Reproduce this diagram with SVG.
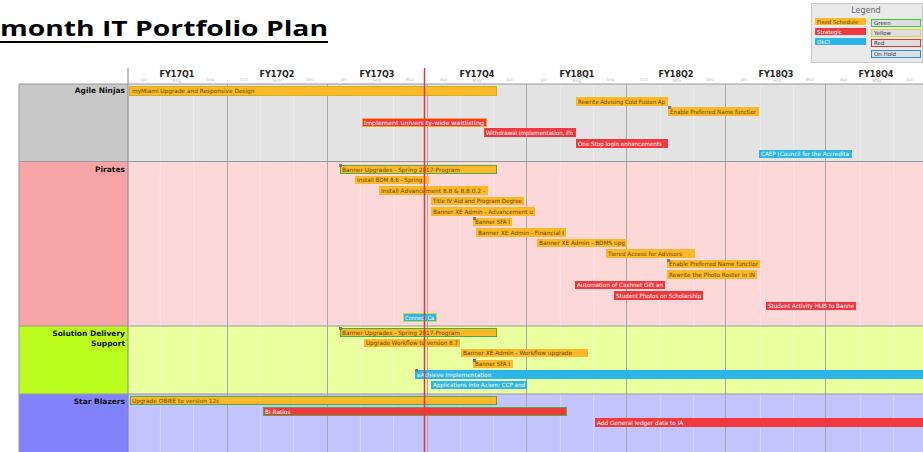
<svg xmlns="http://www.w3.org/2000/svg" width="923" height="452" viewBox="0 0 923 452">
<style>
.bo{fill:#fbb829}
.br{fill:#f2383f}
.bb{fill:#2cb5e6}
.to{fill:#6a4800;font-family:"DejaVu Sans",sans-serif;font-size:5.8px}
.tw{fill:#ffffff;font-family:"DejaVu Sans",sans-serif;font-size:5.8px}
.lane{font-family:"DejaVu Sans",sans-serif;font-size:7.5px;font-weight:bold;fill:#111;text-anchor:end}
.q{font-family:"DejaVu Sans",sans-serif;font-size:8px;font-weight:bold;fill:#222;text-anchor:middle}
.m{font-family:"DejaVu Sans",sans-serif;font-size:4.5px;fill:#bbb;text-anchor:middle}
.mk{fill:#777}
.qg{stroke:#a8a8a8;stroke-width:1}
.mg{stroke:#ffffff;stroke-opacity:0.3;stroke-width:1}
.sep{stroke:#999;stroke-width:1.2}
.lg{font-family:"DejaVu Sans",sans-serif;font-size:5.5px}
</style>

<!-- Title -->
<g id="title">
<text x="0" y="36" font-family="'Open Sans','Liberation Sans',sans-serif" font-weight="bold" font-size="22" fill="#000" textLength="328" lengthAdjust="spacingAndGlyphs">month IT Portfolio Plan</text>
<rect x="0" y="41" width="328" height="2" fill="#000"/>
</g>

<!-- Legend -->
<g id="legend">
<rect x="811.5" y="3.5" width="111" height="59" fill="#e9e9e9" stroke="#c8c8c8"/>
<text x="866" y="13" font-family="'DejaVu Sans',sans-serif" font-size="8" fill="#666" text-anchor="middle">Legend</text>
<rect x="815" y="18" width="51" height="7" class="bo"/>
<text x="817" y="23.5" class="lg" fill="#6a4800">Fixed Schedule</text>
<rect x="815" y="28" width="51" height="7" class="br"/>
<text x="817" y="33.5" class="lg" fill="#fff">Strategic</text>
<rect x="815" y="38" width="51" height="7" class="bb"/>
<text x="817" y="43.5" class="lg" fill="#fff">OkCI</text>
<rect x="871.5" y="19.5" width="49" height="7" fill="#dedede" stroke="#3cc43c"/>
<text x="874" y="25" class="lg" fill="#333">Green</text>
<rect x="871.5" y="29.5" width="49" height="7" fill="#dedede" stroke="#e0d23a"/>
<text x="874" y="35" class="lg" fill="#333">Yellow</text>
<rect x="871.5" y="39.5" width="49" height="7" fill="#dedede" stroke="#e0343c"/>
<text x="874" y="45" class="lg" fill="#333">Red</text>
<rect x="871.5" y="50.5" width="49" height="7" fill="#dedede" stroke="#2a8fd6"/>
<text x="874" y="56" class="lg" fill="#333">On Hold</text>
</g>

<!-- Lane backgrounds -->
<g id="lanes">
<rect x="19" y="84" width="109" height="77.5" fill="#c8c8c8"/>
<rect x="128" y="84" width="795" height="77.5" fill="#e3e3e3"/>
<rect x="19" y="161.5" width="109" height="164.5" fill="#f6a4a6"/>
<rect x="128" y="161.5" width="795" height="164.5" fill="#fdd8d9"/>
<rect x="19" y="326" width="109" height="68" fill="#bcfb1e"/>
<rect x="128" y="326" width="795" height="68" fill="#eaff9e"/>
<rect x="19" y="394" width="109" height="58" fill="#8282fc"/>
<rect x="128" y="394" width="795" height="58" fill="#c3c3fe"/>
</g>

<!-- Gridlines -->
<g id="grid">
<line class="mg" x1="160.3" y1="85" x2="160.3" y2="452"/>
<line class="mg" x1="193.7" y1="85" x2="193.7" y2="452"/>
<line class="mg" x1="260.3" y1="85" x2="260.3" y2="452"/>
<line class="mg" x1="293.7" y1="85" x2="293.7" y2="452"/>
<line class="mg" x1="360.3" y1="85" x2="360.3" y2="452"/>
<line class="mg" x1="393.7" y1="85" x2="393.7" y2="452"/>
<line class="mg" x1="460.3" y1="85" x2="460.3" y2="452"/>
<line class="mg" x1="493.7" y1="85" x2="493.7" y2="452"/>
<line class="mg" x1="560.3" y1="85" x2="560.3" y2="452"/>
<line class="mg" x1="593.7" y1="85" x2="593.7" y2="452"/>
<line class="mg" x1="660.3" y1="85" x2="660.3" y2="452"/>
<line class="mg" x1="693.7" y1="85" x2="693.7" y2="452"/>
<line class="mg" x1="760.3" y1="85" x2="760.3" y2="452"/>
<line class="mg" x1="793.7" y1="85" x2="793.7" y2="452"/>
<line class="mg" x1="860.3" y1="85" x2="860.3" y2="452"/>
<line class="mg" x1="893.7" y1="85" x2="893.7" y2="452"/>
<line class="qg" x1="227.5" y1="84" x2="227.5" y2="452"/>
<line class="qg" x1="327.5" y1="84" x2="327.5" y2="452"/>
<line class="qg" x1="427.5" y1="84" x2="427.5" y2="452"/>
<line class="qg" x1="526.5" y1="84" x2="526.5" y2="452"/>
<line class="qg" x1="626.5" y1="84" x2="626.5" y2="452"/>
<line class="qg" x1="725.5" y1="84" x2="725.5" y2="452"/>
<line class="qg" x1="825.5" y1="84" x2="825.5" y2="452"/>
<line class="sep" x1="19" y1="84" x2="923" y2="84"/>
<line class="sep" x1="19" y1="161.5" x2="923" y2="161.5"/>
<line class="sep" x1="19" y1="326" x2="923" y2="326"/>
<line class="sep" x1="19" y1="394" x2="923" y2="394"/>
<line x1="19" y1="84" x2="19" y2="452" stroke="#999" stroke-width="1"/>
<line x1="128" y1="68" x2="128" y2="452" stroke="#888" stroke-width="1"/>
</g>

<!-- Header -->
<g id="header">
<text class="q" x="177" y="77">FY17Q1</text>
<text class="q" x="277" y="77">FY17Q2</text>
<text class="q" x="377" y="77">FY17Q3</text>
<text class="q" x="477" y="77">FY17Q4</text>
<text class="q" x="577" y="77">FY18Q1</text>
<text class="q" x="676" y="77">FY18Q2</text>
<text class="q" x="776" y="77">FY18Q3</text>
<text class="q" x="876" y="77">FY18Q4</text>
<text class="m" x="144" y="81">Jul</text><text class="m" x="177" y="82">Aug</text><text class="m" x="210" y="81">Sep</text>
<text class="m" x="244" y="81">Oct</text><text class="m" x="277" y="82">Nov</text><text class="m" x="310" y="81">Dec</text>
<text class="m" x="344" y="81">Jan</text><text class="m" x="377" y="82">Feb</text><text class="m" x="410" y="81">Mar</text>
<text class="m" x="444" y="81">Apr</text><text class="m" x="477" y="82">May</text><text class="m" x="510" y="81">Jun</text>
<text class="m" x="544" y="81">Jul</text><text class="m" x="577" y="82">Aug</text><text class="m" x="610" y="81">Sep</text>
<text class="m" x="644" y="81">Oct</text><text class="m" x="677" y="82">Nov</text><text class="m" x="710" y="81">Dec</text>
<text class="m" x="744" y="81">Jan</text><text class="m" x="777" y="82">Feb</text><text class="m" x="810" y="81">Mar</text>
<text class="m" x="844" y="81">Apr</text><text class="m" x="877" y="82">May</text><text class="m" x="910" y="81">Jun</text>
</g>

<!-- Lane labels -->
<g id="lane-agile"><text class="lane" x="125" y="93">Agile Ninjas</text></g>
<g id="lane-pirates"><text class="lane" x="125" y="172">Pirates</text></g>
<g id="lane-sds"><text class="lane" x="125" y="336">Solution Delivery</text><text class="lane" x="125" y="345.5">Support</text></g>
<g id="lane-star"><text class="lane" x="125" y="404">Star Blazers</text></g>

<!-- Agile Ninjas bars -->
<g id="a1"><rect class="bo" x="129.5" y="86.5" width="367" height="9" stroke="#c9b21a" stroke-width="1"/><text class="to" x="132" y="93.2">myMiami Upgrade and Responsive Design</text></g>
<g id="a2"><rect class="bo" x="576" y="97" width="92" height="9"/><text class="to" x="578" y="103.7" textLength="87" lengthAdjust="spacingAndGlyphs">Rewrite Advising Cold Fusion Ap</text></g>
<g id="a3"><rect class="bo" x="668" y="107" width="91" height="9"/><rect class="mk" x="668" y="106" width="3" height="3"/><text class="to" x="670" y="113.7" textLength="86" lengthAdjust="spacingAndGlyphs">Enable Preferred Name functior</text></g>
<g id="a4"><rect class="br" x="362.5" y="118.5" width="124" height="8" stroke="#f8a51e" stroke-width="1"/><text class="tw" x="364" y="124.7" textLength="120" lengthAdjust="spacingAndGlyphs">Implement university-wide waitlisting</text></g>
<g id="a5"><rect class="br" x="484" y="128" width="92" height="9"/><text class="tw" x="486" y="134.7" textLength="87" lengthAdjust="spacingAndGlyphs">Withdrawal Implementation, Ph</text></g>
<g id="a6"><rect class="br" x="576" y="139" width="92" height="9"/><text class="tw" x="578" y="145.7" textLength="84" lengthAdjust="spacingAndGlyphs">One Stop login enhancements</text></g>
<g id="a7"><rect class="bb" x="759" y="150" width="93" height="8"/><text class="tw" x="761" y="156.3" textLength="88" lengthAdjust="spacingAndGlyphs">CAEP (Council for the Accredita</text></g>

<!-- Pirates bars -->
<g id="p1"><rect class="bo" x="340.5" y="165.5" width="156" height="8" stroke="#4cae3c" stroke-width="1"/><rect class="mk" x="339" y="164" width="3" height="3"/><text class="to" x="342" y="171.7" textLength="118" lengthAdjust="spacingAndGlyphs">Banner Upgrades - Spring 2017-Program</text></g>
<g id="p2"><rect class="bo" x="355" y="176" width="74" height="8"/><text class="to" x="357" y="182.3" textLength="69" lengthAdjust="spacingAndGlyphs">Install BDM 8.6 - Spring -</text></g>
<g id="p3"><rect class="bo" x="379" y="186" width="109" height="9"/><text class="to" x="381" y="192.7" textLength="104" lengthAdjust="spacingAndGlyphs">Install Advancement 8.8 &amp; 8.8.0.2 -</text></g>
<g id="p4"><rect class="bo" x="431" y="197" width="93" height="8"/><text class="to" x="433" y="203.3" textLength="89" lengthAdjust="spacingAndGlyphs">Title IV Aid and Program Degree</text></g>
<g id="p5"><rect class="bo" x="431" y="207" width="104" height="9"/><text class="to" x="433" y="213.7" textLength="100" lengthAdjust="spacingAndGlyphs">Banner XE Admin - Advancement u</text></g>
<g id="p6"><rect class="bo" x="473" y="218" width="39" height="8"/><rect class="mk" x="473" y="217" width="3" height="3"/><text class="to" x="475" y="224.3" textLength="35" lengthAdjust="spacingAndGlyphs">Banner SFA I</text></g>
<g id="p7"><rect class="bo" x="476" y="228" width="90" height="9"/><text class="to" x="478" y="234.7" textLength="86" lengthAdjust="spacingAndGlyphs">Banner XE Admin - Financial I</text></g>
<g id="p8"><rect class="bo" x="537" y="239" width="90" height="8"/><text class="to" x="539" y="245.3" textLength="86" lengthAdjust="spacingAndGlyphs">Banner XE Admin - BDMS upg</text></g>
<g id="p9"><rect class="bo" x="606" y="249" width="89" height="9"/><text class="to" x="608" y="255.7" textLength="74" lengthAdjust="spacingAndGlyphs">Tiered Access for Advisors</text></g>
<g id="p10"><rect class="bo" x="667" y="260" width="93" height="8"/><rect class="mk" x="667" y="259" width="3" height="3"/><text class="to" x="669" y="266.3" textLength="89" lengthAdjust="spacingAndGlyphs">Enable Preferred Name functior</text></g>
<g id="p11"><rect class="bo" x="667" y="270" width="90" height="9"/><text class="to" x="669" y="276.7" textLength="86" lengthAdjust="spacingAndGlyphs">Rewrite the Photo Roster in IN</text></g>
<g id="p12"><rect class="br" x="575" y="281" width="90" height="8"/><text class="tw" x="577" y="287.3" textLength="86" lengthAdjust="spacingAndGlyphs">Automation of Cashnet Gift an</text></g>
<g id="p13"><rect class="br" x="614" y="291" width="89" height="9"/><text class="tw" x="616" y="297.7" textLength="85" lengthAdjust="spacingAndGlyphs">Student Photos on Scholarship</text></g>
<g id="p14"><rect class="br" x="766" y="302" width="90" height="8"/><text class="tw" x="768" y="308.3" textLength="86" lengthAdjust="spacingAndGlyphs">Student Activity HUB to Banne</text></g>
<g id="p15"><rect class="bb" x="403.5" y="313.5" width="33" height="8" stroke="#d8d23a" stroke-width="1"/><text class="tw" x="405" y="319.7" textLength="29" lengthAdjust="spacingAndGlyphs">Connect Ca</text></g>

<!-- Solution Delivery Support bars -->
<g id="s1"><rect class="bo" x="340.5" y="328.5" width="156" height="8" stroke="#4cae3c" stroke-width="1"/><rect class="mk" x="339" y="327" width="3" height="3"/><text class="to" x="342" y="334.7" textLength="118" lengthAdjust="spacingAndGlyphs">Banner Upgrades - Spring 2017-Program</text></g>
<g id="s2"><rect class="bo" x="364" y="339" width="96" height="8"/><text class="to" x="366" y="345.3" textLength="92" lengthAdjust="spacingAndGlyphs">Upgrade Workflow to version 8.7</text></g>
<g id="s3"><rect class="bo" x="461" y="349" width="127" height="8"/><text class="to" x="463" y="355.3">Banner XE Admin - Workflow upgrade</text></g>
<g id="s4"><rect class="bo" x="473" y="360" width="40" height="8"/><rect class="mk" x="473" y="359" width="3" height="3"/><text class="to" x="475" y="366.3" textLength="35" lengthAdjust="spacingAndGlyphs">Banner SFA I</text></g>
<g id="s5"><rect class="bb" x="415" y="370" width="508" height="9"/><rect class="mk" x="415" y="369" width="3" height="3"/><text class="tw" x="417" y="376.7">eAchieve Implementation</text></g>
<g id="s6"><rect class="bb" x="431" y="381" width="96" height="8"/><text class="tw" x="433" y="387.3" textLength="92" lengthAdjust="spacingAndGlyphs">Applications into Axiom: CCP and</text></g>

<!-- Star Blazers bars -->
<g id="b1"><rect class="bo" x="130.5" y="396.5" width="366" height="8" stroke="#4cae3c" stroke-width="1"/><text class="to" x="132" y="402.7">Upgrade OBIEE to version 12c</text></g>
<g id="b2"><rect class="br" x="263.5" y="407.5" width="303" height="8" stroke="#4cae3c" stroke-width="1"/><text class="tw" x="265" y="413.7">BI Ratios</text></g>
<g id="b3"><rect class="br" x="595" y="418" width="328" height="9"/><text class="tw" x="597" y="424.7">Add General ledger data to IA</text></g>

<!-- Today line -->
<g id="today"><line x1="424.5" y1="68" x2="424.5" y2="452" stroke="#e8343c" stroke-width="1.5"/></g>

<g id="connectors"/>
</svg>
